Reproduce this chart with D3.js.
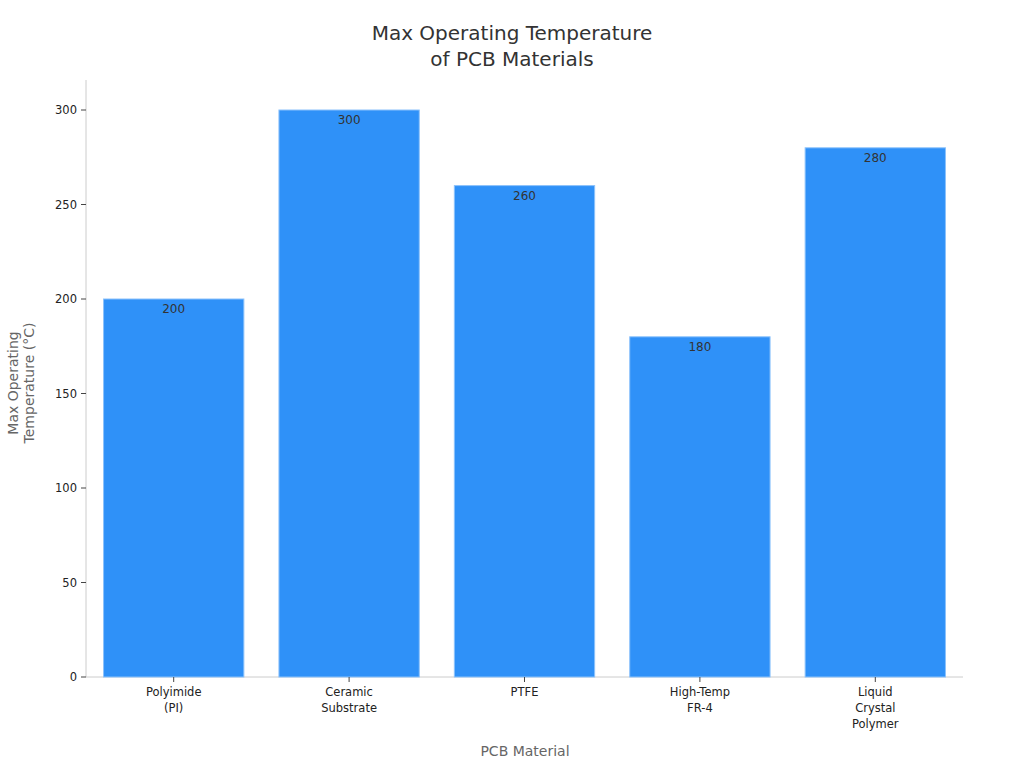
<!DOCTYPE html><html><head><meta charset="utf-8"><script src="https://cdn.jsdelivr.net/npm/d3@7"></script>
<style>body{margin:0;background:#fff}text{font-family:"DejaVu Sans",sans-serif}</style></head><body>
<svg id="c" width="1024" height="768"></svg>
<script>
const categories=[["Polyimide","(PI)"],["Ceramic","Substrate"],["PTFE"],["High-Temp","FR-4"],["Liquid","Crystal","Polymer"]];
const values=[200,300,260,180,280];
const yTicks=[0,50,100,150,200,250,300];
const svg=d3.select("#c");
const L=86,R=963,T=80,B=677;
const x=d3.scaleBand().domain(d3.range(5)).range([L,R]).paddingInner(0.2).paddingOuter(0.1);
const y=d3.scaleLinear().domain([0,300]).range([B,110]);
svg.append("line").attr("x1",L).attr("x2",L).attr("y1",T).attr("y2",B).attr("stroke","#ccc");
svg.append("line").attr("x1",L).attr("x2",R).attr("y1",B).attr("y2",B).attr("stroke","#ccc");
const ya=svg.append("g");
yTicks.forEach(t=>{ya.append("line").attr("x1",L-5).attr("x2",L).attr("y1",y(t)).attr("y2",y(t)).attr("stroke","#444");
ya.append("text").attr("x",L-9).attr("y",y(t)).attr("dy","0.35em").attr("text-anchor","end").attr("font-size",11.5).attr("fill","#222").text(t);});
values.forEach((v,i)=>{
svg.append("rect").attr("x",x(i)).attr("width",x.bandwidth()).attr("y",y(v)).attr("height",B-y(v)).attr("fill","#2f91f8").attr("stroke","#8cc2fb").attr("stroke-width",1);
svg.append("text").attr("x",x(i)+x.bandwidth()/2).attr("y",y(v)+14).attr("text-anchor","middle").attr("font-size",12).attr("fill","#333").text(v);
const cx=x(i)+x.bandwidth()/2;
svg.append("line").attr("x1",cx).attr("x2",cx).attr("y1",B).attr("y2",B+5).attr("stroke","#444");
categories[i].forEach((s,j)=>svg.append("text").attr("x",cx).attr("y",B+19+j*16).attr("text-anchor","middle").attr("font-size",11.5).attr("fill","#222").text(s));
});
svg.append("text").attr("x",525).attr("y",756).attr("text-anchor","middle").attr("font-size",14).attr("fill","#666").text("PCB Material");
const yl=svg.append("text").attr("transform","translate(18,383) rotate(-90)").attr("text-anchor","middle").attr("font-size",14).attr("fill","#666");
yl.append("tspan").attr("x",0).attr("dy",0).text("Max Operating");
yl.append("tspan").attr("x",0).attr("dy",16).text("Temperature (°C)");
svg.append("text").attr("x",512).attr("y",40).attr("text-anchor","middle").attr("font-size",20).attr("fill","#333").text("Max Operating Temperature");
svg.append("text").attr("x",512).attr("y",66).attr("text-anchor","middle").attr("font-size",20).attr("fill","#333").text("of PCB Materials");
</script></body></html>
